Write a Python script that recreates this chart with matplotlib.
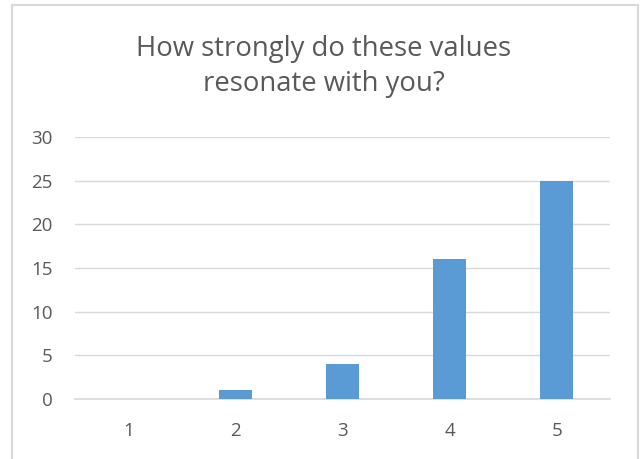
import matplotlib
matplotlib.use("Agg")
import matplotlib.pyplot as plt
from matplotlib.patches import Rectangle

categories = ["1", "2", "3", "4", "5"]
values = [0, 1, 4, 16, 25]
yticks = [0, 5, 10, 15, 20, 25, 30]
title = "How strongly do these values\nresonate with you?"

plt.rcParams['font.family'] = ['Open Sans', 'DejaVu Sans']

fig = plt.figure(figsize=(6.41, 4.59), dpi=100)
ax = fig.add_axes([0.117, 0.131, 0.835, 0.5705])

x = range(len(categories))
ax.bar(x, values, width=0.31, color="#5B9BD5", zorder=3)
ax.set_xlim(-0.5, len(categories) - 0.5)
ax.set_ylim(0, 30)
ax.set_yticks(yticks)
ax.set_xticks(list(x))
ax.set_xticklabels(categories)
ax.yaxis.grid(True, color="#D9D9D9", linewidth=1, zorder=0)
for s in ["top", "right", "left"]:
    ax.spines[s].set_visible(False)
ax.spines["bottom"].set_color("#D9D9D9")
ax.spines["bottom"].set_linewidth(1.2)
ax.tick_params(axis="both", length=0, colors="#595959", labelsize=13.5)
ax.tick_params(axis="x", pad=17)
ax.tick_params(axis="y", pad=16)

fig.text(0.505, 0.855, title, ha="center", va="center", fontsize=19.8, color="#595959", linespacing=1.3)

fig.patches.append(Rectangle((0.018, -0.02), 0.978, 1.01, transform=fig.transFigure,
                             fill=False, edgecolor="#D9D9D9", linewidth=1.5))

fig.savefig("out.png", dpi=100)
